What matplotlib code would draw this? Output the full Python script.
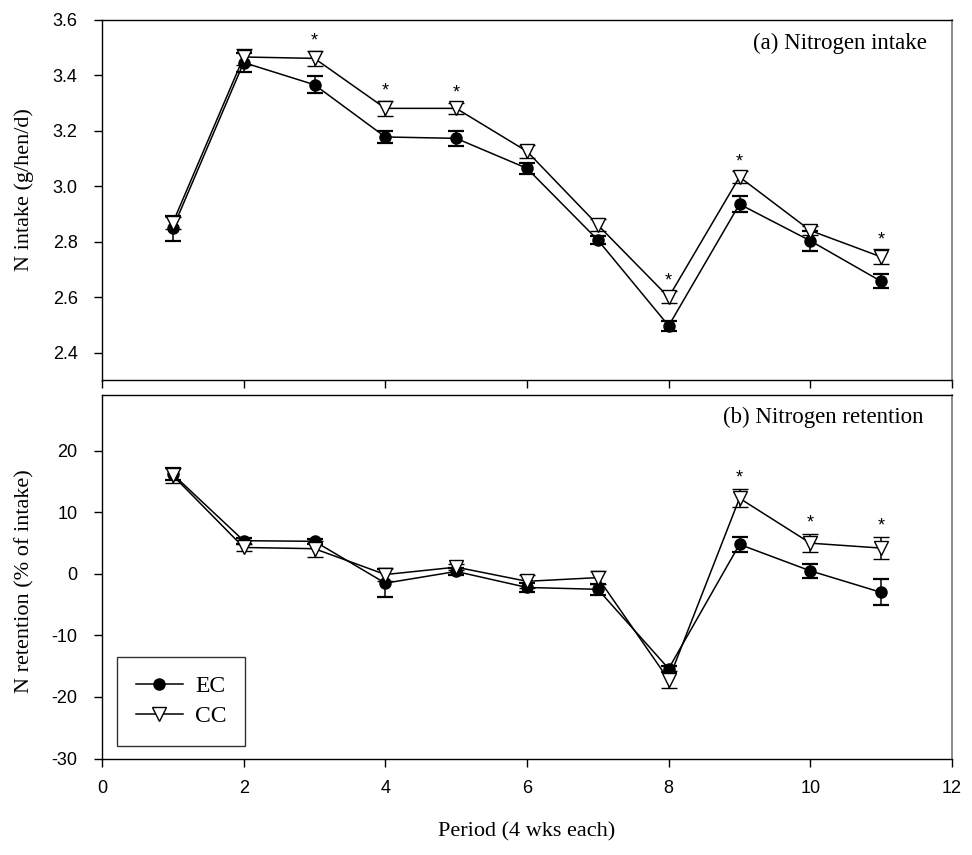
import matplotlib
matplotlib.use("Agg")
import matplotlib.pyplot as plt
import numpy as np

plt.rcParams["axes.unicode_minus"] = False

# Period number (4 weeks each)
periods = [1, 2, 3, 4, 5, 6, 7, 8, 9, 10, 11]

# (a) Nitrogen intake, g/hen/d (mean and SE)
intake_ec = [2.848, 3.445, 3.365, 3.177, 3.172, 3.064, 2.806, 2.497, 2.935, 2.803, 2.657]
intake_ec_se = [0.044, 0.035, 0.030, 0.020, 0.028, 0.020, 0.015, 0.018, 0.030, 0.035, 0.025]
intake_cc = [2.868, 3.465, 3.460, 3.280, 3.280, 3.125, 2.860, 2.600, 3.033, 2.840, 2.745]
intake_cc_se = [0.022, 0.030, 0.027, 0.027, 0.020, 0.024, 0.020, 0.022, 0.020, 0.016, 0.027]
intake_sig = [3, 4, 5, 8, 9, 11]

# (b) Nitrogen retention, % of intake (mean and SE)
retention_ec = [16.2, 5.4, 5.3, -1.5, 0.4, -2.2, -2.5, -15.4, 4.8, 0.5, -3.0]
retention_ec_se = [1.0, 0.5, 0.4, 2.3, 0.5, 0.8, 0.9, 0.5, 1.2, 1.1, 2.1]
retention_cc = [16.0, 4.3, 4.1, -0.1, 1.1, -1.2, -0.6, -17.2, 12.3, 5.0, 4.2]
retention_cc_se = [1.2, 0.6, 1.3, 1.1, 0.5, 1.1, 1.0, 1.4, 1.5, 1.5, 1.8]
retention_sig = [9, 10, 11]

x_ticks = [0, 2, 4, 6, 8, 10, 12]
intake_ticks = [2.4, 2.6, 2.8, 3.0, 3.2, 3.4, 3.6]
retention_ticks = [-30, -20, -10, 0, 10, 20]

serif = ["Liberation Serif", "DejaVu Serif"]
sans = ["Liberation Sans", "DejaVu Sans"]

W, H = 972, 855
fig = plt.figure(figsize=(W / 100, H / 100), dpi=100)


def frac_box(left, top, right, bottom):
    return [left / W, 1 - bottom / H, (right - left) / W, (bottom - top) / H]


ax1 = fig.add_axes(frac_box(102, 19.5, 952, 380.5))
ax2 = fig.add_axes(frac_box(102, 395.5, 952, 758.5))

ms = 8.0
lw = 1.1
cap = 5.5


def draw_series(ax, y_ec, e_ec, y_cc, e_cc):
    ax.errorbar(periods, y_ec, yerr=e_ec, color="black", lw=lw, marker="o",
                ms=ms, mfc="black", mec="black", capsize=cap, capthick=1.6,
                elinewidth=1.1, label="EC", zorder=3)
    ax.errorbar(periods, y_cc, yerr=e_cc, color="black", lw=lw, marker="v",
                ms=ms + 2, mfc="white", mec="black", mew=1.0, capsize=cap,
                capthick=1.6, elinewidth=1.1, label="CC", zorder=4)


def mark_sig(ax, sig, y_cc, e_cc, offset):
    for p in sig:
        i = periods.index(p)
        ax.text(p, y_cc[i] + e_cc[i] + offset, "*", ha="center", va="bottom",
                fontsize=13, family=sans)


def style_axis(ax):
    ax.set_xlim(0, 12)
    ax.set_xticks(x_ticks)
    ax.tick_params(direction="out", length=5.5, width=1.0, labelsize=13)
    ax.tick_params(axis="x", pad=10)
    ax.tick_params(axis="y", pad=12)
    for lab in ax.get_xticklabels() + ax.get_yticklabels():
        lab.set_family(sans)
    for side in ("left", "bottom", "top"):
        ax.spines[side].set_linewidth(1.0)
    ax.spines["right"].set_color("#777777")
    ax.spines["right"].set_linewidth(1.2)


draw_series(ax1, intake_ec, intake_ec_se, intake_cc, intake_cc_se)
mark_sig(ax1, intake_sig, intake_cc, intake_cc_se, 0.005)
ax1.set_ylim(2.3, 3.6)
ax1.set_yticks(intake_ticks)
ax1.set_yticklabels([f"{v:.1f}" for v in intake_ticks])
style_axis(ax1)
ax1.tick_params(axis="x", labelbottom=False)
ax1.set_ylabel("N intake (g/hen/d)", family=serif, fontsize=16)
ax1.yaxis.set_label_coords(-0.08, 0.53)
ax1.text(0.9706, 0.935, "(a) Nitrogen intake", transform=ax1.transAxes,
         ha="right", va="center", family=serif, fontsize=16.5)

draw_series(ax2, retention_ec, retention_ec_se, retention_cc, retention_cc_se)
mark_sig(ax2, retention_sig, retention_cc, retention_cc_se, 0.4)
ax2.set_ylim(-30, 29)
ax2.set_yticks(retention_ticks)
style_axis(ax2)
ax2.set_ylabel("N retention (% of intake)", family=serif, fontsize=16)
ax2.yaxis.set_label_coords(-0.08, 0.49)
ax2.set_xlabel("Period (4 wks each)", family=serif, fontsize=16)
ax2.xaxis.set_label_coords(0.5, -0.176)
ax2.text(0.966, 0.941, "(b) Nitrogen retention", transform=ax2.transAxes,
         ha="right", va="center", family=serif, fontsize=16.5)

handles, labels = ax2.get_legend_handles_labels()
handles = [h[0] for h in handles]
leg = ax2.legend(handles, labels, loc="lower left", bbox_to_anchor=(0.0176, 0.0344),
                 borderaxespad=0, frameon=True, fancybox=False, edgecolor="black",
                 handlelength=2.0, borderpad=0.8, labelspacing=0.35,
                 handletextpad=0.5, prop={"family": serif, "size": 17})
leg.get_frame().set_linewidth(1.0)

fig.savefig("out.png", dpi=100)
